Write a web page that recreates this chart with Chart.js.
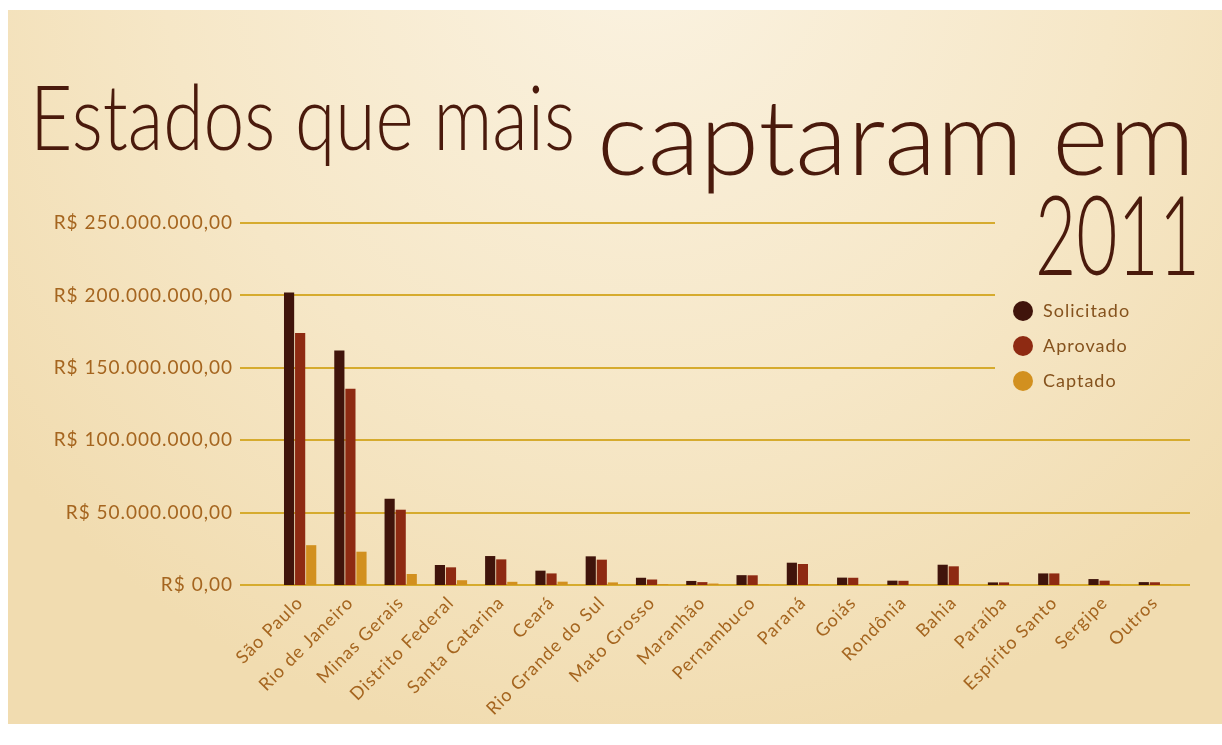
<!DOCTYPE html>
<html>
<head>
<meta charset="utf-8">
<script src="https://cdn.jsdelivr.net/npm/chart.js@4.4.0/dist/chart.umd.min.js"></script>
<style>
  html, body { margin: 0; padding: 0; background: #fff; width: 1222px; height: 745px; overflow: hidden; }
  #grafico { position: absolute; left: 0; top: 0; }
</style>
</head>
<body>
<canvas id="grafico" width="1222" height="745"></canvas>
<script>
const ESTADOS = ['São Paulo', 'Rio de Janeiro', 'Minas Gerais', 'Distrito Federal', 'Santa Catarina', 'Ceará',
  'Rio Grande do Sul', 'Mato Grosso', 'Maranhão', 'Pernambuco', 'Paraná', 'Goiás', 'Rondônia', 'Bahia',
  'Paraíba', 'Espírito Santo', 'Sergipe', 'Outros']

const SOLICITADO = [202000000, 162000000, 59500000, 13800000, 20000000, 9900000, 19800000, 5000000, 2800000,
  6800000, 15400000, 5100000, 3000000, 14000000, 1800000, 8000000, 4100000, 2000000]
const APROVADO = [174000000, 135500000, 52000000, 12200000, 17700000, 8000000, 17500000, 3800000, 2000000,
  6700000, 14500000, 5000000, 2900000, 12900000, 1800000, 8000000, 3000000, 1900000]
const CAPTADO = [27500000, 23000000, 7600000, 3300000, 2200000, 2300000, 1800000, 600000, 1000000,
  300000, 400000, 300000, 300000, 400000, 200000, 300000, 300000, 300000]

const SERIES = ['Solicitado', 'Aprovado', 'Captado']
const CORES = ['#40140b', '#8e2a12', '#d2901f']
const Y_TICKS = [0, 50000000, 100000000, 150000000, 200000000, 250000000]

const COR_TEXTO = '#a5651f'
const COR_TITULO = '#4a1a0c'
const COR_GRADE = '#d6ab2e'
const FONTE = 'Lato, "Open Sans", sans-serif'

function formatarReais(valor) {
  let inteiro = Math.round(valor).toString()
  inteiro = inteiro.replace(/\B(?=(\d{3})+(?!\d))/g, '.')
  return 'R$ ' + inteiro + ',00'
}

function desenharTitulo(ctx, texto, x, base, tamanho, largura) {
  ctx.save()
  ctx.letterSpacing = '0px'
  ctx.font = '300 ' + tamanho + 'px ' + FONTE
  ctx.fillStyle = COR_TITULO
  ctx.textBaseline = 'alphabetic'
  const medida = ctx.measureText(texto).width
  ctx.translate(x, base)
  ctx.scale(largura / medida, 1)
  ctx.fillText(texto, 0, 0)
  ctx.restore()
}

// fundo, grade e textos fora do grafico
const decoracao = {
  id: 'decoracao',
  beforeDraw(chart) {
    const ctx = chart.ctx
    ctx.save()
    const grad = ctx.createRadialGradient(640, -60, 60, 640, -60, 820)
    grad.addColorStop(0, '#faf1de')
    grad.addColorStop(0.55, '#f6e7c7')
    grad.addColorStop(1, '#f1dcb0')
    ctx.fillStyle = grad
    ctx.fillRect(8, 10, 1214, 714)
    ctx.restore()
    // letras um pouco mais espaçadas nos eixos
    ctx.letterSpacing = '1px'
  },
  beforeDatasetsDraw(chart) {
    const ctx = chart.ctx
    const y = chart.scales.y
    ctx.save()
    ctx.strokeStyle = COR_GRADE
    ctx.lineWidth = 2
    y.ticks.forEach(t => {
      const py = Math.round(y.getPixelForValue(t.value))
      const fim = t.value >= 150000000 ? 995 : 1190
      ctx.beginPath()
      ctx.moveTo(240, py)
      ctx.lineTo(fim, py)
      ctx.stroke()
    })
    ctx.restore()
  },
  afterDraw(chart) {
    const ctx = chart.ctx
    desenharTitulo(ctx, 'Estados que mais', 30, 150, 90, 545)
    desenharTitulo(ctx, 'captaram em', 597, 175, 104, 598)
    desenharTitulo(ctx, '2011', 1035, 275, 110, 165)

    ctx.save()
    ctx.letterSpacing = '1px'
    ctx.font = '18px ' + FONTE
    ctx.textBaseline = 'middle'
    chart.data.datasets.forEach((ds, i) => {
      const cy = 311 + i * 35
      ctx.fillStyle = ds.backgroundColor
      ctx.beginPath()
      ctx.arc(1023, cy, 10, 0, Math.PI * 2)
      ctx.fill()
      ctx.fillStyle = '#85521d'
      ctx.fillText(ds.label, 1043, cy)
    })
    ctx.restore()
  }
}

new Chart(document.getElementById('grafico'), {
  type: 'bar',
  data: {
    labels: ESTADOS,
    datasets: [
      { label: SERIES[0], data: SOLICITADO, backgroundColor: CORES[0] },
      { label: SERIES[1], data: APROVADO, backgroundColor: CORES[1] },
      { label: SERIES[2], data: CAPTADO, backgroundColor: CORES[2] }
    ]
  },
  options: {
    responsive: false,
    animation: false,
    layout: { padding: { top: 223, right: 42, bottom: 0, left: 0 } },
    datasets: { bar: { barPercentage: 0.92, categoryPercentage: 0.66 } },
    plugins: { legend: { display: false }, tooltip: { enabled: false } },
    scales: {
      x: {
        grid: { display: false, drawTicks: false },
        border: { display: false },
        ticks: {
          color: COR_TEXTO, autoSkip: false, minRotation: 45, maxRotation: 45, padding: 7,
          font: { family: FONTE, size: 18 }
        },
        afterFit(escala) { escala.height = 160 }
      },
      y: {
        min: 0, max: 250000000,
        afterBuildTicks(escala) { escala.ticks = Y_TICKS.map(v => ({ value: v })) },
        grid: { display: false, drawTicks: false },
        border: { display: false },
        ticks: {
          color: COR_TEXTO, padding: 42,
          font: { family: FONTE, size: 19 },
          callback: v => formatarReais(v)
        },
        afterFit(escala) { escala.width = 275 }
      }
    }
  },
  plugins: [decoracao]
})
</script>
</body>
</html>
